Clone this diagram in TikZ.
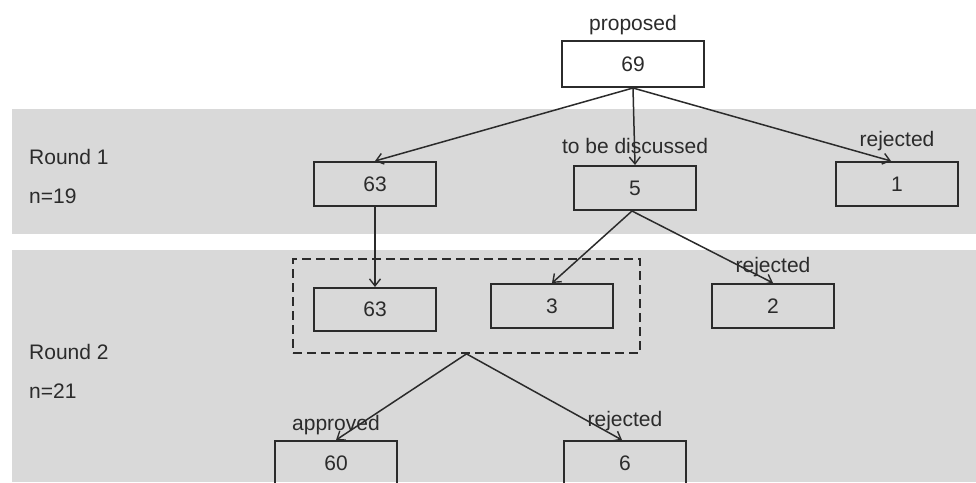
\documentclass[tikz,border=0pt]{standalone}
\usepackage{fontspec}
\setmainfont{Liberation Sans}
\usetikzlibrary{arrows.meta}
\definecolor{bandgray}{HTML}{D9D9D9}
\definecolor{ink}{HTML}{2B2B2B}
\begin{document}
\begin{tikzpicture}[x=1pt,y=-1pt,
  every node/.style={font=\fontsize{21}{25}\selectfont, text=ink},
  numbox/.style={draw=ink, line width=2pt, minimum width=122pt, minimum height=44pt, inner sep=0pt},
  grpbox/.style={draw=ink, line width=1.7pt, dash pattern=on 9pt off 5pt, inner sep=0pt},
  lbl/.style={inner sep=0pt},
  conn/.style={draw=ink, line width=1.5pt, -{Straight Barb[length=7pt,width=11pt,line width=1.4pt]}}
]
\clip (0,0) rectangle (976,482);
\fill[white] (0,0) rectangle (976,482);
% bands
\fill[bandgray] (12,109) rectangle (976,234);
\fill[bandgray] (12,250) rectangle (976,482);
% round labels
\node[lbl, anchor=west] (r1) at (29,157) {Round 1};
\node[lbl, anchor=west] (n1) at (29,196) {n=19};
\node[lbl, anchor=west] (r2) at (29,352) {Round 2};
\node[lbl, anchor=west] (n2) at (29,391) {n=21};
% boxes
\node[numbox, fill=white, minimum width=142pt, minimum height=46pt] (b69) at (633,64) {69};
\node[numbox] (b63a) at (375,184) {63};
\node[numbox] (b5) at (635,188) {5};
\node[numbox] (b1) at (897,184) {1};
\node[grpbox, minimum width=347pt, minimum height=94pt] (grp) at (466.5,306) {};
\node[numbox, minimum height=43pt] (b63b) at (375,309.5) {63};
\node[numbox] (b3) at (552,306) {3};
\node[numbox] (b2) at (773,306) {2};
\node[numbox] (b60) at (336,463) {60};
\node[numbox] (b6) at (625,463) {6};
% connectors
\draw[conn] (b69.south) -- (b63a.north);
\draw[conn] (b69.south) -- (b5.north);
\draw[conn] (b69.south) -- ([xshift=-6pt]b1.north);
\draw[conn] (b63a.south) -- (b63b.north);
\draw[conn] ([xshift=-3pt]b5.south) -- (b3.north);
\draw[conn] ([xshift=-3pt]b5.south) -- (b2.north);
\draw[conn] (grp.south) -- (b60.north);
\draw[conn] (grp.south) -- ([xshift=-3pt]b6.north);
% labels
\node[lbl] (lprop) at (633,25) {proposed};
\node[lbl] (ldisc) at (635,146) {to be discussed};
\node[lbl] (lrej1) at (897,141) {rejected};
\node[lbl] (lrej2) at (773,267) {rejected};
\node[lbl] (lappr) at (336,425) {approved};
\node[lbl] (lrej3) at (625,421) {rejected};
\end{tikzpicture}
\end{document}
